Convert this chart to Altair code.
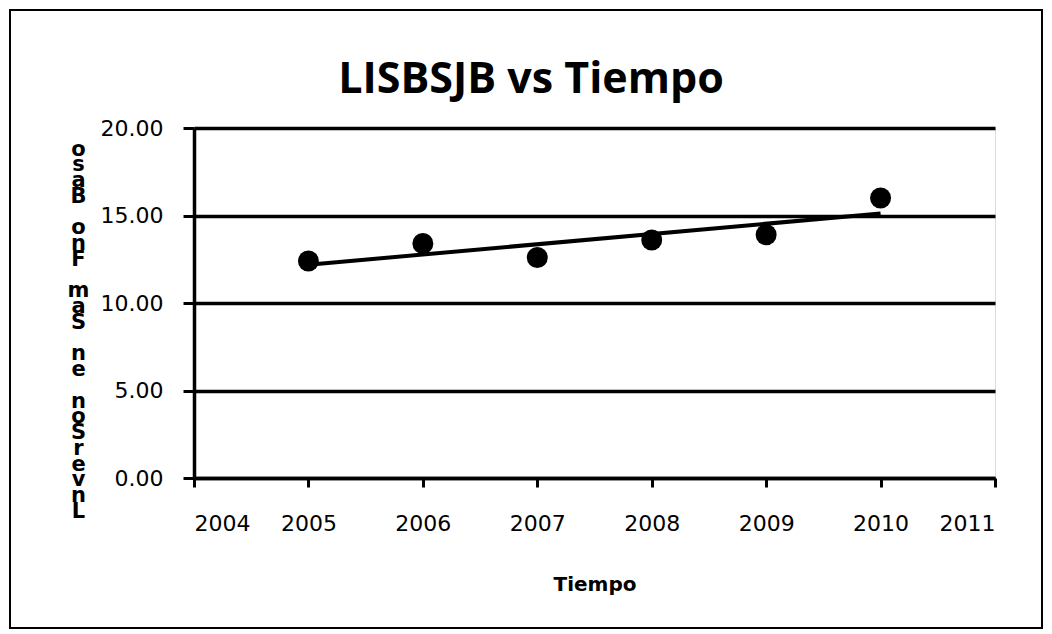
import altair as alt
import pandas as pd

years = [2005, 2006, 2007, 2008, 2009, 2010]
values = [12.4, 13.4, 12.6, 13.6, 13.9, 16.0]
y_ticks = [0, 5, 10, 15, 20]
x_ticks = [2004, 2005, 2006, 2007, 2008, 2009, 2010, 2011]
GAP = "\u2800"
y_title_chars = ["o", "s", "a", "B", GAP, "o", "n", "F", GAP, "m", "a", "S", GAP,
                 "n", "e", GAP, "n", "o", "S", "r", "e", "v", "n", "L"]
chart_title = "LISBSJB vs Tiempo"

df = pd.DataFrame({"year": years, "value": values})

x_enc = alt.X("year:Q", scale=alt.Scale(domain=[2004, 2011], nice=False),
              axis=alt.Axis(values=x_ticks, format="d", title="Tiempo",
                            grid=False, domainColor="black", domainWidth=3.5,
                            tickColor="black", tickWidth=3, tickSize=9,
                            labelFont="DejaVu Sans", labelFontSize=22, labelColor="black",
                            labelPadding=26,
                            titleFont="DejaVu Sans", titleFontSize=20, titleFontWeight="bold",
                            titleColor="black", titlePadding=40))
y_enc = alt.Y("value:Q", scale=alt.Scale(domain=[0, 20], nice=False),
              axis=alt.Axis(values=y_ticks, format=".2f", title=y_title_chars,
                            grid=True, gridColor="black", gridWidth=3.5,
                            domainColor="black", domainWidth=3.5,
                            tickColor="black", tickWidth=3, tickSize=11,
                            labelFont="DejaVu Sans", labelFontSize=22, labelColor="black",
                            labelPadding=20,
                            titleAngle=0, titleFont="DejaVu Sans", titleFontSize=21,
                            titleFontWeight="bold", titleColor="black",
                            titleLineHeight=15.75, titleAlign="center", titleBaseline="top",
                            titleX=-116, titleY=10))

points = alt.Chart(df).mark_circle(size=440, color="black", opacity=1).encode(x=x_enc, y=y_enc)
trend = alt.Chart(df).transform_regression("year", "value").mark_line(
    color="black", strokeWidth=4).encode(x="year:Q", y="value:Q")

frame = alt.Chart(pd.DataFrame({"k": [0]})).mark_rect(
    fill="white", fillOpacity=0, stroke="black", strokeWidth=2, clip=False).encode(
    x=alt.value(-184), x2=alt.value(848), y=alt.value(-118), y2=alt.value(500))

title_text = alt.Chart(pd.DataFrame({"t": [chart_title]})).mark_text(
    font="Open Sans", fontSize=43, fontWeight="bold", color="black",
    align="center", baseline="middle", clip=False).encode(
    text="t:N", x=alt.value(337), y=alt.value(-48))

chart = alt.layer(frame, trend, points, title_text).properties(
    width=801, height=350,
    autosize=alt.AutoSizeParams(type="none"),
    padding={"left": 186, "top": 120, "right": 49, "bottom": 156},
).configure_view(stroke=None).configure(background="white")

chart.save("out.html", embed_options={"renderer": "svg", "actions": False})
